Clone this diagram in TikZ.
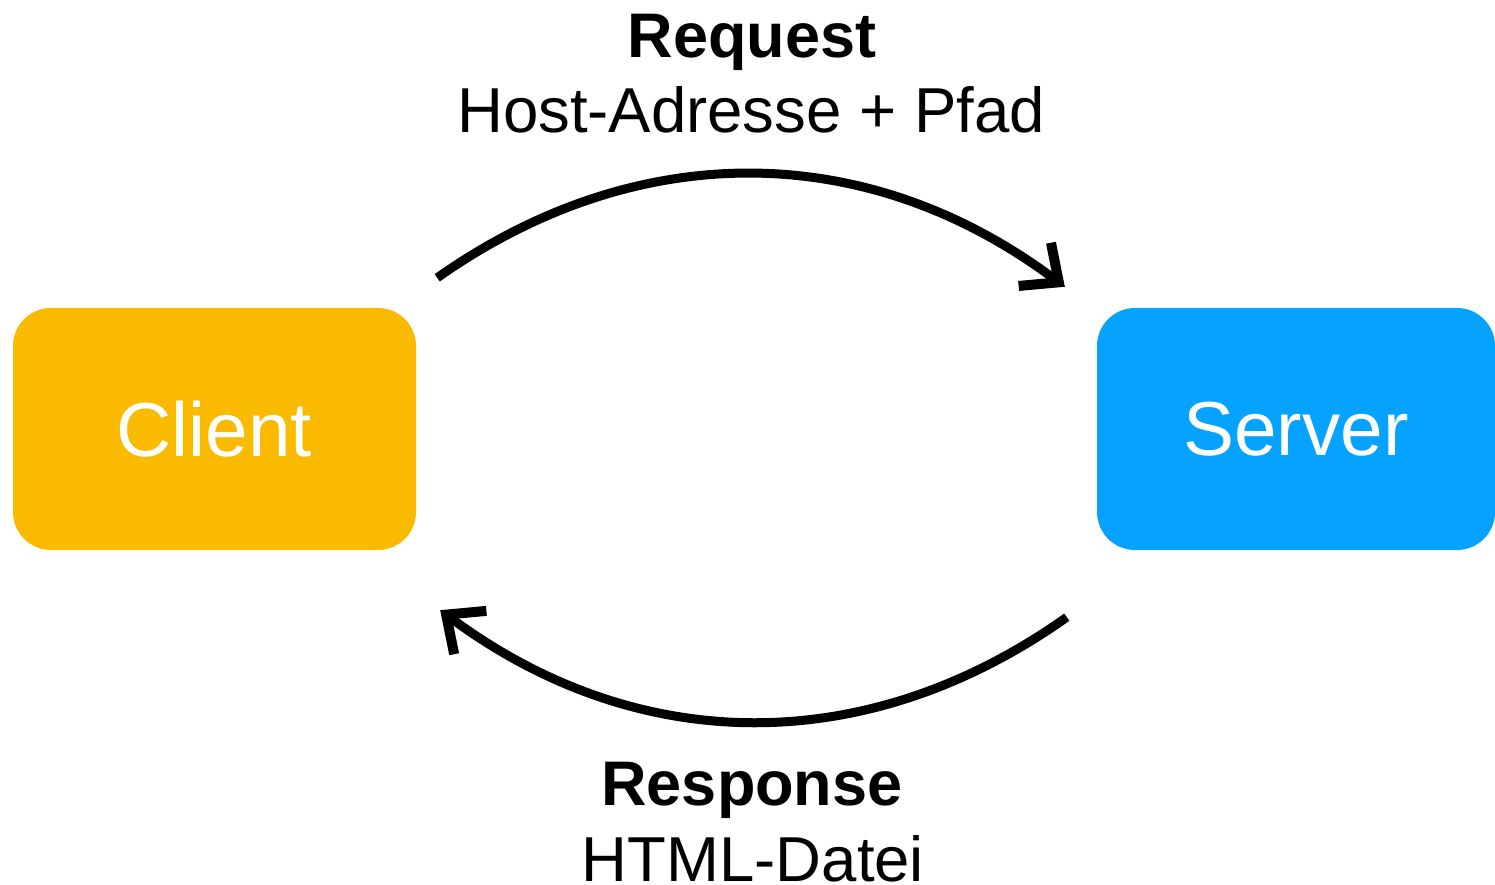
\documentclass[tikz,border=0pt]{standalone}
\usepackage{fontspec}
\setmainfont{Liberation Sans}
\usetikzlibrary{arrows.meta,calc}
\definecolor{clientyellow}{RGB}{250,186,0}
\definecolor{serverblue}{RGB}{5,162,255}
\tikzset{
  box/.style={rectangle, rounded corners=38pt, minimum width=#1, minimum height=242pt, inner sep=0pt, text=white, font=\fontsize{76.5}{80}\selectfont},
  flow/.style={line width=9pt, -{Straight Barb[length=30pt,width=54pt,line width=10pt]}},
  ttl/.style={anchor=base, font=\fontsize{63}{68}\selectfont\bfseries},
  sub/.style={anchor=base, font=\fontsize{63.5}{68}\selectfont},
}
\begin{document}
\begin{tikzpicture}[x=1pt,y=1pt]
\useasboundingbox (0,0) rectangle (1495,885);
\node[box=403pt, fill=clientyellow] (client) at (214.5,456) {Client};
\node[box=398pt, fill=serverblue] (server) at (1296,456) {Server};
\coordinate (rqs) at ($(client.north east)+(21,30)$);
\coordinate (rqe) at ($(server.north west)+(-32,21)$);
\coordinate (rss) at ($(server.south west)+(-30,-67)$);
\coordinate (rse) at ($(client.south east)+(24,-60)$);
\draw[flow] (rqs) to[bend left=36] (rqe);
\draw[flow] (rss) to[bend left=36] (rse);
\node[ttl] (req) at (752,827) {Request};
\node[sub] (reqsub) at (751,752) {Host-Adresse + Pfad};
\node[ttl] (resp) at (752,79) {Response};
\node[sub] (respsub) at (753,3) {HTML-Datei};
\end{tikzpicture}
\end{document}
